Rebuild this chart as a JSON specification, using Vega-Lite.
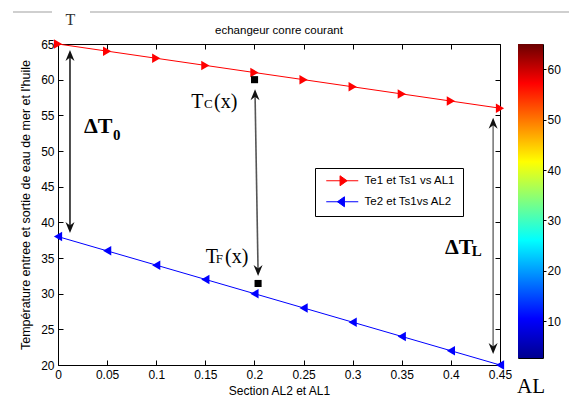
{
  "$schema": "https://vega.github.io/schema/vega-lite/v6.json",
  "padding": {"left": 11, "top": 10, "right": 0, "bottom": 0},
  "background": "white",
  "config": {
    "view": {"stroke": "black", "strokeWidth": 1},
    "font": "Liberation Sans",
    "axis": {"grid": false, "labelFont": "Liberation Sans", "labelFontSize": 12, "labelColor": "black", "titleFont": "Liberation Sans", "titleFontWeight": "normal", "titleColor": "black", "tickColor": "black", "domain": false, "labelFlush": false, "labelOverlap": false}
  },
  "datasets": {
    "series": [
      {"x": 0, "T": 65, "serie": "Te1 et Ts1 vs AL1"},
      {"x": 0.05, "T": 64, "serie": "Te1 et Ts1 vs AL1"},
      {"x": 0.1, "T": 63, "serie": "Te1 et Ts1 vs AL1"},
      {"x": 0.15, "T": 62, "serie": "Te1 et Ts1 vs AL1"},
      {"x": 0.2, "T": 61, "serie": "Te1 et Ts1 vs AL1"},
      {"x": 0.25, "T": 60, "serie": "Te1 et Ts1 vs AL1"},
      {"x": 0.3, "T": 59, "serie": "Te1 et Ts1 vs AL1"},
      {"x": 0.35, "T": 58, "serie": "Te1 et Ts1 vs AL1"},
      {"x": 0.4, "T": 57, "serie": "Te1 et Ts1 vs AL1"},
      {"x": 0.45, "T": 56, "serie": "Te1 et Ts1 vs AL1"},
      {"x": 0, "T": 38, "serie": "Te2 et Ts1vs AL2"},
      {"x": 0.05, "T": 36, "serie": "Te2 et Ts1vs AL2"},
      {"x": 0.1, "T": 34, "serie": "Te2 et Ts1vs AL2"},
      {"x": 0.15, "T": 32, "serie": "Te2 et Ts1vs AL2"},
      {"x": 0.2, "T": 30, "serie": "Te2 et Ts1vs AL2"},
      {"x": 0.25, "T": 28, "serie": "Te2 et Ts1vs AL2"},
      {"x": 0.3, "T": 26, "serie": "Te2 et Ts1vs AL2"},
      {"x": 0.35, "T": 24, "serie": "Te2 et Ts1vs AL2"},
      {"x": 0.4, "T": 22, "serie": "Te2 et Ts1vs AL2"},
      {"x": 0.45, "T": 20, "serie": "Te2 et Ts1vs AL2"}
    ],
    "arrows": [
      {"x": 0.0122, "y": 63.6, "x2": 0.0122, "y2": 39.06, "k": "a"},
      {"x": 0.2006, "y": 58.1, "x2": 0.2037, "y2": 33.0, "k": "b"},
      {"x": 0.443, "y": 54.1, "x2": 0.443, "y2": 22.1, "k": "c"}
    ],
    "headsUp": [
      {"x": 0.0122, "y": 64.16},
      {"x": 0.2006, "y": 58.65},
      {"x": 0.443, "y": 54.67}
    ],
    "headsDown": [
      {"x": 0.0122, "y": 38.5},
      {"x": 0.2037, "y": 32.48},
      {"x": 0.443, "y": 21.54}
    ],
    "squares": [
      {"x": 0.2001, "y": 60.0},
      {"x": 0.2037, "y": 31.43}
    ],
    "bigText": [
      {"x": 0.0265, "y": 52.48, "t": "ΔT"},
      {"x": 0.394, "y": 35.56, "t": "ΔT"}
    ],
    "subText": [
      {"x": 0.056, "y": 51.5, "t": "0"},
      {"x": 0.4212, "y": 35.28, "t": "L"}
    ],
    "serifText": [
      {"x": 0.1357, "y": 55.99, "t": "T"},
      {"x": 0.1588, "y": 55.99, "t": "(x)"},
      {"x": 0.1504, "y": 34.34, "t": "T"},
      {"x": 0.17, "y": 34.34, "t": "(x)"}
    ],
    "smallText": [
      {"x": 0.1486, "y": 55.99, "t": "C"},
      {"x": 0.1606, "y": 34.34, "t": "F"}
    ],
    "topLines": [
      {"x": -20.2, "x2": -18.64, "y": 71.35},
      {"x": -17.12, "x2": 2.04, "y": 71.35}
    ],
    "topText": [
      {"x": -17.9, "y": 68.77, "t": "T"}
    ],
    "cbar": [
      {"lo": 2.7, "hi": 65}
    ]
  },
  "spacing": 18,
  "bounds": "flush",
  "hconcat": [
    {
      "width": 442,
      "height": 321,
      "title": {"text": "echangeur conre courant", "fontSize": 11.5, "font": "Liberation Sans", "fontWeight": "normal", "color": "black", "offset": 2},
      "resolve": {"axis": {"x": "independent", "y": "independent"}},
      "layer": [
        {
          "data": {"name": "series"},
          "mark": {"type": "line", "strokeWidth": 1},
          "encoding": {
            "x": {"field": "x", "type": "quantitative", "scale": {"domain": [0, 0.45], "nice": false, "zero": false},
              "axis": {"orient": "bottom", "values": [0, 0.05, 0.1, 0.15, 0.2, 0.25, 0.3, 0.35, 0.4, 0.45], "format": "~g", "tickSize": -5, "labelPadding": 9, "title": "Section AL2 et AL1", "titleFontSize": 12, "titlePadding": 5}},
            "y": {"field": "T", "type": "quantitative", "scale": {"domain": [20, 65], "nice": false, "zero": false},
              "axis": {"orient": "left", "values": [20, 25, 30, 35, 40, 45, 50, 55, 60, 65], "tickSize": -5, "labelPadding": 9, "title": "Température entree et sortie de eau de mer et l'huile", "titleFontSize": 12.5, "titlePadding": 8}},
            "color": {"field": "serie", "type": "nominal", "scale": {"domain": ["Te1 et Ts1 vs AL1", "Te2 et Ts1vs AL2"], "range": ["#ff0000", "#0000ff"]},
              "legend": {
                "title": null, "orient": "none", "legendX": 257, "legendY": 124,
                "strokeColor": "black", "fillColor": "white", "padding": 7, "cornerRadius": 0,
                "symbolSize": 64, "symbolOffset": 14.5, "labelOffset": 16.5, "symbolStrokeWidth": 1,
                "labelFont": "Liberation Sans", "labelFontSize": 11.5, "labelColor": "black", "rowPadding": 6,
                "encoding": {"symbols": {
                  "shape": {"condition": {"test": "datum.value === 'Te1 et Ts1 vs AL1'", "value": "M-4,0L4,0M-0.55,-1.25L1.2,0L-0.55,1.25Z"}, "value": "M-4,0L4,0M0.55,-1.25L-1.2,0L0.55,1.25Z"},
                  "fill": {"condition": {"test": "datum.value === 'Te1 et Ts1 vs AL1'", "value": "#ff0000"}, "value": "#0000ff"},
                  "opacity": {"value": 1}
                }}
              }}
          }
        },
        {
          "data": {"name": "series"},
          "transform": [{"filter": "datum.serie === 'Te1 et Ts1 vs AL1'"}],
          "mark": {"type": "point", "shape": "triangle-right", "filled": true, "size": 90, "opacity": 1, "color": "#ff0000"},
          "encoding": {
            "x": {"field": "x", "type": "quantitative",
              "axis": {"orient": "top", "values": [0, 0.05, 0.1, 0.15, 0.2, 0.25, 0.3, 0.35, 0.4, 0.45], "tickSize": -5, "labels": false, "title": null}},
            "y": {"field": "T", "type": "quantitative",
              "axis": {"orient": "right", "values": [20, 25, 30, 35, 40, 45, 50, 55, 60, 65], "tickSize": -5, "labels": false, "title": null}}
          }
        },
        {
          "data": {"name": "series"},
          "transform": [{"filter": "datum.serie === 'Te2 et Ts1vs AL2'"}],
          "mark": {"type": "point", "shape": "triangle-left", "filled": true, "size": 90, "opacity": 1, "color": "#0000ff"},
          "encoding": {
            "x": {"field": "x", "type": "quantitative", "axis": null},
            "y": {"field": "T", "type": "quantitative", "axis": null}
          }
        },
        {
          "data": {"name": "arrows"},
          "mark": {"type": "rule"},
          "encoding": {
            "x": {"field": "x", "type": "quantitative", "axis": null},
            "y": {"field": "y", "type": "quantitative", "axis": null},
            "x2": {"field": "x2"},
            "y2": {"field": "y2"},
            "color": {"condition": [{"test": "datum.k === 'a'", "value": "#222222"}, {"test": "datum.k === 'b'", "value": "#555555"}], "value": "#7a7a7a"},
            "strokeWidth": {"value": 1.6}
          }
        },
        {
          "data": {"name": "headsUp"},
          "mark": {"type": "point", "shape": "M0,0L0.45,1.1L0,0.75L-0.45,1.1Z", "filled": true, "size": 400, "color": "#111111", "opacity": 1},
          "encoding": {
            "x": {"field": "x", "type": "quantitative", "axis": null},
            "y": {"field": "y", "type": "quantitative", "axis": null}
          }
        },
        {
          "data": {"name": "headsDown"},
          "mark": {"type": "point", "shape": "M0,0L0.45,-1.1L0,-0.75L-0.45,-1.1Z", "filled": true, "size": 400, "color": "#111111", "opacity": 1},
          "encoding": {
            "x": {"field": "x", "type": "quantitative", "axis": null},
            "y": {"field": "y", "type": "quantitative", "axis": null}
          }
        },
        {
          "data": {"name": "squares"},
          "mark": {"type": "point", "shape": "square", "filled": true, "size": 50, "color": "black", "opacity": 1},
          "encoding": {
            "x": {"field": "x", "type": "quantitative", "axis": null},
            "y": {"field": "y", "type": "quantitative", "axis": null}
          }
        },
        {
          "data": {"name": "bigText"},
          "mark": {"type": "text", "font": "Liberation Serif", "fontSize": 22, "fontWeight": "bold", "align": "left", "baseline": "alphabetic", "color": "black"},
          "encoding": {
            "x": {"field": "x", "type": "quantitative", "axis": null},
            "y": {"field": "y", "type": "quantitative", "axis": null},
            "text": {"field": "t"}
          }
        },
        {
          "data": {"name": "subText"},
          "mark": {"type": "text", "font": "Liberation Serif", "fontSize": 15, "fontWeight": "bold", "align": "left", "baseline": "alphabetic", "color": "black"},
          "encoding": {
            "x": {"field": "x", "type": "quantitative", "axis": null},
            "y": {"field": "y", "type": "quantitative", "axis": null},
            "text": {"field": "t"}
          }
        },
        {
          "data": {"name": "serifText"},
          "mark": {"type": "text", "font": "Liberation Serif", "fontSize": 20, "align": "left", "baseline": "alphabetic", "color": "black"},
          "encoding": {
            "x": {"field": "x", "type": "quantitative", "axis": null},
            "y": {"field": "y", "type": "quantitative", "axis": null},
            "text": {"field": "t"}
          }
        },
        {
          "data": {"name": "smallText"},
          "mark": {"type": "text", "font": "Liberation Serif", "fontSize": 13, "align": "left", "baseline": "alphabetic", "color": "black"},
          "encoding": {
            "x": {"field": "x", "type": "quantitative", "axis": null},
            "y": {"field": "y", "type": "quantitative", "axis": null},
            "text": {"field": "t"}
          }
        }
      ]
    },
    {
      "width": 25,
      "height": 314,
      "resolve": {"axis": {"x": "independent", "y": "independent"}},
      "layer": [
        {
          "data": {"name": "cbar"},
          "mark": {"type": "rect", "color": {"gradient": "linear", "x1": 0, "y1": 1, "x2": 0, "y2": 0, "stops": [
            {"offset": 0, "color": "#00008f"},
            {"offset": 0.125, "color": "#0000ff"},
            {"offset": 0.375, "color": "#00ffff"},
            {"offset": 0.625, "color": "#ffff00"},
            {"offset": 0.875, "color": "#ff0000"},
            {"offset": 1, "color": "#6a0000"}
          ]}},
          "encoding": {
            "x": {"datum": 0, "type": "quantitative", "scale": {"domain": [0, 1], "nice": false, "zero": false},
              "axis": {"labels": false, "ticks": false, "domain": false, "title": "AL", "titleFont": "Liberation Serif", "titleFontSize": 21, "titleFontWeight": "normal", "titlePadding": 17}},
            "x2": {"datum": 1},
            "y": {"field": "hi", "type": "quantitative", "scale": {"domain": [2.7, 65], "nice": false, "zero": false},
              "axis": {"orient": "right", "values": [10, 20, 30, 40, 50, 60], "tickSize": 3, "labelPadding": 1, "title": null}},
            "y2": {"field": "lo"}
          }
        },
        {
          "data": {"name": "topLines"},
          "mark": {"type": "rule", "color": "#a0a0a0", "strokeWidth": 1.2},
          "encoding": {
            "x": {"field": "x", "type": "quantitative", "axis": null},
            "x2": {"field": "x2"},
            "y": {"field": "y", "type": "quantitative", "axis": null}
          }
        },
        {
          "data": {"name": "topText"},
          "mark": {"type": "text", "font": "Liberation Serif", "fontSize": 16, "align": "center", "baseline": "alphabetic", "color": "#333333"},
          "encoding": {
            "x": {"field": "x", "type": "quantitative", "axis": null},
            "y": {"field": "y", "type": "quantitative", "axis": null},
            "text": {"field": "t"}
          }
        }
      ]
    }
  ]
}
